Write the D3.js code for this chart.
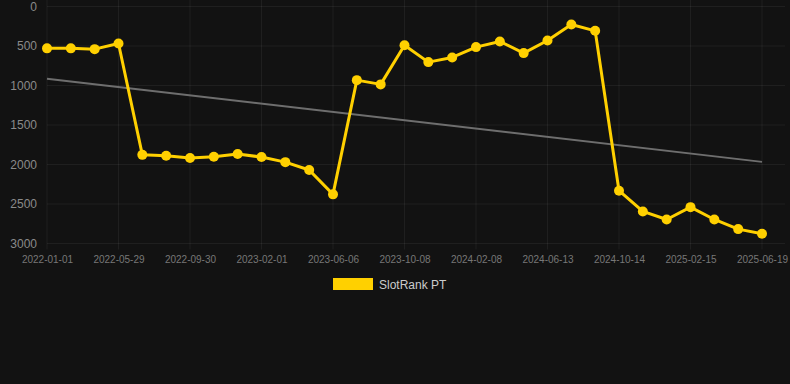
<!DOCTYPE html>
<html lang="en">
<head>
<meta charset="UTF-8">
<title>SlotRank PT</title>
<script src="https://cdn.jsdelivr.net/npm/d3@7/dist/d3.min.js"></script>
<style>
  html, body { margin: 0; padding: 0; background: #121212; }
  svg { display: block; font-family: "Liberation Sans", Arial, sans-serif; }
</style>
</head>
<body>
<svg width="790" height="384"></svg>
<script>
// dates on the category axis (only every 3rd one is labelled)
var dates = [
  "2022-01-01","2022-02-19","2022-04-09","2022-05-29","2022-07-09","2022-08-19",
  "2022-09-30","2022-11-10","2022-12-21","2023-02-01","2023-03-14","2023-04-25",
  "2023-06-06","2023-07-17","2023-08-27","2023-10-08","2023-11-18","2023-12-29",
  "2024-02-08","2024-03-20","2024-05-02","2024-06-13","2024-07-24","2024-09-03",
  "2024-10-14","2024-11-24","2025-01-04","2025-02-15","2025-03-28","2025-05-09",
  "2025-06-19"
];
// rank values (lower is better, axis reversed)
var ranks = [
  530, 530, 540, 468, 1878, 1890, 1918, 1902, 1868, 1906, 1970, 2070,
  2378, 932, 986, 490, 704, 645, 514, 442, 590, 430, 228, 308,
  2332, 2594, 2696, 2540, 2696, 2818, 2876
];
var yTicks = [0, 500, 1000, 1500, 2000, 2500, 3000];
var seriesName = "SlotRank PT";

var svg = d3.select("svg");
var m = { left: 47, right: 762, top: 6.5, bottom: 243.5 };

var x = d3.scalePoint().domain(dates).range([m.left, m.right]);
var y = d3.scaleLinear().domain([0, 3000]).range([m.top, m.bottom]);

var tickDates = dates.filter(function (d, i) { return i % 3 === 0; });

// grid
var grid = svg.append("g");
grid.selectAll(".hg").data(yTicks).enter().append("line")
  .attr("x1", m.left).attr("x2", 785)
  .attr("y1", function (d) { return y(d); })
  .attr("y2", function (d) { return y(d); })
  .attr("stroke", "rgba(255,255,255,0.06)").attr("stroke-width", 1);
grid.selectAll(".vg").data(tickDates).enter().append("line")
  .attr("x1", function (d) { return x(d); })
  .attr("x2", function (d) { return x(d); })
  .attr("y1", 0).attr("y2", m.bottom + 6)
  .attr("stroke", "rgba(255,255,255,0.06)").attr("stroke-width", 1);

// y axis labels
var yAxis = d3.axisLeft(y).tickValues(yTicks).tickFormat(d3.format("d"))
  .tickSize(0).tickPadding(0);
svg.append("g").attr("transform", "translate(37,0)").call(yAxis)
  .call(function (g) { g.select(".domain").remove(); })
  .selectAll("text").attr("fill", "#8a8a8a").attr("font-size", 12)
  .attr("font-family", "Liberation Sans, Arial, sans-serif");

// x axis labels
var xAxis = d3.axisBottom(x).tickValues(tickDates).tickSize(0).tickPadding(0);
svg.append("g").attr("transform", "translate(0,256)").call(xAxis)
  .call(function (g) { g.select(".domain").remove(); })
  .selectAll("text").attr("fill", "#777").attr("font-size", 10)
  .attr("font-family", "Liberation Sans, Arial, sans-serif");

// trend line (least squares over the index)
var n = ranks.length;
var mx = d3.mean(d3.range(n)), my = d3.mean(ranks);
var slope = d3.sum(ranks, function (v, i) { return (i - mx) * (v - my); }) /
            d3.sum(d3.range(n), function (i) { return (i - mx) * (i - mx); });
var icpt = my - slope * mx;
svg.append("line")
  .attr("x1", x(dates[0])).attr("y1", y(icpt))
  .attr("x2", x(dates[n - 1])).attr("y2", y(icpt + slope * (n - 1)))
  .attr("stroke", "#6e6e6e").attr("stroke-width", 2);

// series line
var line = d3.line()
  .x(function (d, i) { return x(dates[i]); })
  .y(function (d) { return y(d); });
svg.append("path").datum(ranks)
  .attr("d", line).attr("fill", "none")
  .attr("stroke", "#ffd000").attr("stroke-width", 3)
  .attr("stroke-linejoin", "round");

svg.selectAll(".pt").data(ranks).enter().append("circle")
  .attr("cx", function (d, i) { return x(dates[i]); })
  .attr("cy", function (d) { return y(d); })
  .attr("r", 5)
  .attr("fill", "#ffd000");

// legend
svg.append("rect").attr("x", 333).attr("y", 278).attr("width", 40).attr("height", 12)
  .attr("fill", "#ffd000");
svg.append("text").attr("x", 379).attr("y", 288.5).text(seriesName)
  .attr("fill", "#cccccc").attr("font-size", 12);
</script>
</body>
</html>
